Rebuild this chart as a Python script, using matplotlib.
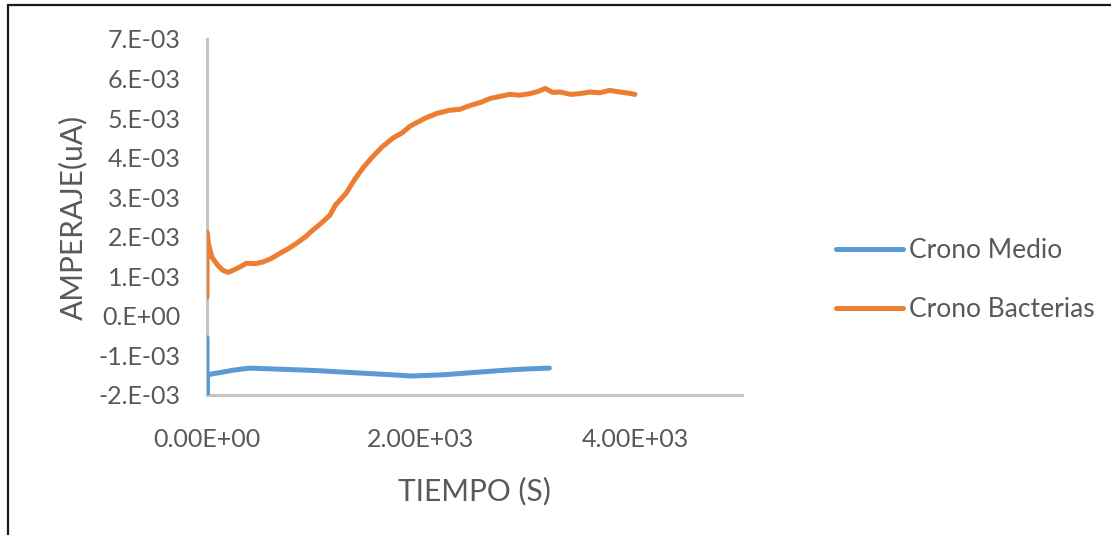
import matplotlib
matplotlib.use("Agg")
import matplotlib.pyplot as plt
from matplotlib.patches import Rectangle

# chronoamperometry readings, time in s, current in units of 1e-3
medio_t = [0, 0, 3, 20, 60, 150, 250, 400, 600, 800, 1000, 1200, 1400,
           1600, 1800, 1900, 2000, 2200, 2400, 2600, 2800, 3000, 3200]
medio_i = [-0.55, -2.0, -1.50, -1.48, -1.46, -1.42, -1.37, -1.32, -1.34,
           -1.36, -1.38, -1.41, -1.44, -1.47, -1.50, -1.52, -1.51, -1.49,
           -1.45, -1.41, -1.37, -1.34, -1.32]

bact_t = [0, 0, 15, 47, 100, 150, 200, 280, 370, 450, 520, 600, 680, 760,
          840, 920, 990, 1070, 1150, 1200, 1240, 1300, 1380, 1460, 1540,
          1640, 1740, 1820, 1900, 1970, 2040, 2150, 2270, 2360, 2460, 2560,
          2650, 2740, 2830, 2920, 3020, 3100, 3160, 3230, 3300, 3400, 3490,
          3580, 3670, 3760, 3860, 3940, 4000]
bact_i = [0.47, 2.12, 1.80, 1.48, 1.28, 1.15, 1.10, 1.20, 1.33, 1.32, 1.36,
          1.45, 1.58, 1.70, 1.84, 2.00, 2.17, 2.35, 2.55, 2.80, 2.92, 3.10,
          3.45, 3.75, 4.00, 4.28, 4.50, 4.62, 4.80, 4.90, 5.00, 5.12, 5.20,
          5.22, 5.32, 5.40, 5.50, 5.55, 5.60, 5.58, 5.62, 5.68, 5.75, 5.65,
          5.66, 5.60, 5.62, 5.66, 5.64, 5.70, 5.66, 5.63, 5.60]

y_ticks = [-2, -1, 0, 1, 2, 3, 4, 5, 6, 7]
y_labels = ["-2.E-03", "-1.E-03", "0.E+00", "1.E-03", "2.E-03", "3.E-03",
            "4.E-03", "5.E-03", "6.E-03", "7.E-03"]
x_ticks = [0, 2000, 4000]
x_labels = ["0.00E+00", "2.00E+03", "4.00E+03"]

BLUE = "#5B9BD5"
ORANGE = "#ED7D31"
TXT = "#595959"
AXIS = "#C4C4C4"

plt.rcParams["font.family"] = ["Lato", "DejaVu Sans"]

fig = plt.figure(figsize=(11.11, 5.35), dpi=100)
W, H = 1111, 535
ax = fig.add_axes([207 / W, 1 - 395 / H, (742 - 207) / W, (395 - 39) / H])

ax.plot(medio_t, [v * 1e-3 for v in medio_i], color=BLUE, lw=3.6,
        solid_capstyle="round", label="Crono Medio")
ax.plot(bact_t, [v * 1e-3 for v in bact_i], color=ORANGE, lw=3.6,
        solid_capstyle="round", label="Crono Bacterias")

ax.set_xlim(0, 5000)
ax.set_ylim(-2e-3, 7e-3)
ax.set_yticks([v * 1e-3 for v in y_ticks])
ax.set_yticklabels(y_labels)
ax.set_xticks(x_ticks)
ax.set_xticklabels(x_labels)
ax.tick_params(length=0, labelsize=18, labelcolor=TXT)
ax.tick_params(axis="y", pad=19)
ax.tick_params(axis="x", pad=24)

for s in ["top", "right"]:
    ax.spines[s].set_visible(False)
for s in ["left", "bottom"]:
    ax.spines[s].set_color(AXIS)
    ax.spines[s].set_linewidth(2.2)
    ax.spines[s].set_zorder(0)

ax.set_xlabel("TIEMPO (S)", fontsize=21.5, color=TXT, labelpad=18)
ax.set_ylabel("AMPERAJE(uA)", fontsize=21.5, color=TXT, labelpad=8)

leg = ax.legend(loc="center left", bbox_to_anchor=(836 / W, 1 - 280 / H),
                bbox_transform=fig.transFigure, frameon=False, fontsize=19,
                handlelength=2.55, handletextpad=0.2, labelspacing=1.3,
                borderpad=0, borderaxespad=0)
for t in leg.get_texts():
    t.set_color(TXT)

# outer chart border (only top and left edges fall inside the image)
fig.patches.append(Rectangle((8 / W, -0.1), 1.2, 1.1 - 5 / H, transform=fig.transFigure,
                             fill=False, edgecolor="#1a1a1a", lw=1.6))

fig.savefig("out.png", dpi=100)
